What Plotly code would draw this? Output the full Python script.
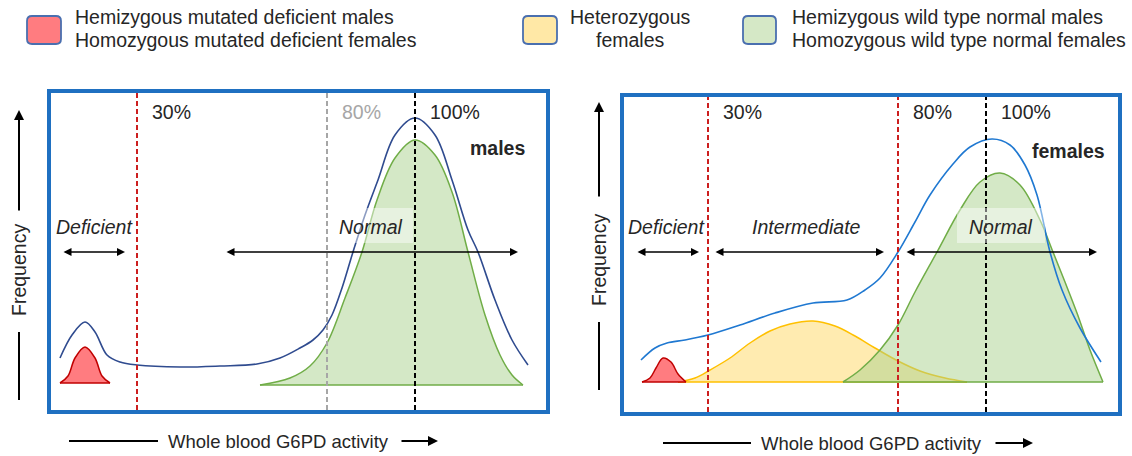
import plotly.graph_objects as go

W, H = 1132, 456
FONT = "Liberation Sans, Arial, sans-serif"
TXT = "#262626"

# ---------------- DATA ----------------
# x: activity units measured from the left edge of each panel box, y: frequency units from box bottom
# Left panel: males
male_thr_x = [86, 276, 364]
male_thr_labels = ["30%", "80%", "100%"]
male_thr_colors = ["#CC1F1F", "#A6A6A6", "#000000"]
male_thr_label_colors = ["#262626", "#A6A6A6", "#262626"]

male_def_x = [9, 17, 24, 34, 44, 51, 59]
male_def_y = [27, 34, 52, 63, 52, 34, 27]

male_norm_x = [209, 239, 259, 276, 294, 311, 326, 344, 364, 384, 401, 417, 434, 449, 461, 472]
male_norm_y = [25, 32, 44, 67, 112, 158, 210, 252, 270, 255, 218, 158, 95, 55, 35, 25]

male_all_x = [9, 21, 34, 44, 56, 69, 86, 129, 169, 206, 229, 249, 262, 272, 281, 291, 302, 314,
              327, 344, 364, 384, 401, 417, 427, 444, 461, 477]
male_all_y = [52, 75, 88, 78, 55, 48, 45, 43, 44, 46, 52, 62, 70, 80, 95, 122, 158, 195,
              230, 275, 292, 275, 230, 180, 158, 110, 70, 45]

# Right panel: females
fem_thr_x = [84, 274, 362]
fem_thr_labels = ["30%", "80%", "100%"]
fem_thr_colors = ["#CC1F1F", "#CC1F1F", "#000000"]

fem_def_x = [18, 26, 32, 39, 47, 54, 62]
fem_def_y = [30, 34, 44, 54, 50, 38, 30]

fem_het_x = [54, 71, 86, 106, 126, 146, 166, 189, 211, 231, 251, 274, 296, 321, 343]
fem_het_y = [30, 34, 42, 54, 69, 81, 88, 91, 86, 76, 64, 51, 41, 34, 30]

fem_norm_x = [219, 236, 256, 274, 291, 313, 336, 356, 376, 396, 416, 429, 441, 453, 466, 479]
fem_norm_y = [30, 42, 62, 87, 120, 160, 202, 230, 239, 227, 192, 160, 130, 99, 62, 30]

fem_all_x = [17, 31, 43, 61, 84, 116, 151, 189, 223, 241, 256, 274, 291, 306, 329, 346,
             368, 386, 401, 413, 426, 438, 456, 477]
fem_all_y = [52, 64, 69, 72, 77, 87, 99, 109, 112, 122, 134, 160, 190, 217, 248, 265,
             273, 267, 247, 217, 160, 122, 84, 50]

# Region labels / arrows: (label, label_x, arrow_start, arrow_end)
male_regions = [("Deficient", 43, 11, 74), ("Normal", 320, 174, 467)]
fem_regions = [("Deficient", 42, 12, 75), ("Intermediate", 182, 90, 260), ("Normal", 377, 281, 473)]

legend_labels = [["Hemizygous mutated deficient males", "Homozygous mutated deficient females"],
                 ["Heterozygous", "females"],
                 ["Hemizygous wild type normal males", "Homozygous wild type normal females"]]

# ---------------- STYLE ----------------
RED_FILL, RED_LINE = "#FF7C80", "#C00000"
YEL_FILL, YEL_LINE = "rgba(255,210,80,0.45)", "#FFC000"
GRN_FILL, GRN_LINE = "rgba(169,209,142,0.5)", "#70AD47"
BOX = "#1F70C1"
FS = 19.5


def px(x):
    return x / W


def py(y):
    return 1 - y / H


fig = go.Figure()


def area(xs, ys, fill, line, xa, ya):
    fig.add_trace(go.Scatter(x=xs, y=ys, mode="lines", fill="toself", fillcolor=fill,
                             line=dict(color=line, width=1.5, shape="spline"),
                             xaxis=xa, yaxis=ya, hoverinfo="skip", showlegend=False))
    fig.add_trace(go.Scatter(x=[xs[0], xs[-1]], y=[ys[0], ys[-1]], mode="lines",
                             line=dict(color=line, width=1.5),
                             xaxis=xa, yaxis=ya, hoverinfo="skip", showlegend=False))


def curve(xs, ys, color, xa, ya):
    fig.add_trace(go.Scatter(x=xs, y=ys, mode="lines",
                             line=dict(color=color, width=1.6, shape="spline"),
                             xaxis=xa, yaxis=ya, hoverinfo="skip", showlegend=False))


def vlines(xs, colors, top, xa, ya):
    for x, c in zip(xs, colors):
        fig.add_trace(go.Scatter(x=[x, x], y=[0, top], mode="lines",
                                 line=dict(color=c, width=2, dash="5px,3px"),
                                 xaxis=xa, yaxis=ya, hoverinfo="skip", showlegend=False))


# Left panel
area(male_norm_x, male_norm_y, GRN_FILL, GRN_LINE, "x", "y")
area(male_def_x, male_def_y, RED_FILL, RED_LINE, "x", "y")
curve(male_all_x, male_all_y, "#2F4B8F", "x", "y")
vlines(male_thr_x, male_thr_colors, 317, "x", "y")

# Right panel
area(fem_het_x, fem_het_y, YEL_FILL, YEL_LINE, "x2", "y2")
area(fem_norm_x, fem_norm_y, GRN_FILL, GRN_LINE, "x2", "y2")
area(fem_def_x, fem_def_y, RED_FILL, RED_LINE, "x2", "y2")
curve(fem_all_x, fem_all_y, "#1F78D1", "x2", "y2")
vlines(fem_thr_x, fem_thr_colors, 315, "x2", "y2")

ann = []
shapes = []


def text(x, y, t, xref="paper", yref="paper", xanchor="center", size=FS, color=TXT, angle=0):
    ann.append(dict(x=x, y=y, xref=xref, yref=yref, text=t, showarrow=False, xanchor=xanchor,
                    yanchor="middle", textangle=angle, font=dict(size=size, color=color)))


# threshold labels
for x, t, c in zip(male_thr_x, male_thr_labels, male_thr_label_colors):
    text(x + 13, 298, t, "x", "y", "left", color=c)
for x, t in zip(fem_thr_x, fem_thr_labels):
    text(x + 13, 300, t, "x2", "y2", "left")

text(476, 262, "<b>males</b>", "x", "y", "right")
text(483, 261, "<b>females</b>", "x2", "y2", "right")

# "Normal" translucent boxes
shapes.append(dict(type="rect", xref="x", yref="y", x0=279, x1=362, y0=167, y1=202,
                   fillcolor="rgba(255,255,255,0.45)", line=dict(width=0), layer="above"))
shapes.append(dict(type="rect", xref="x2", yref="y2", x0=333, x1=421, y0=169, y1=204,
                   fillcolor="rgba(255,255,255,0.45)", line=dict(width=0), layer="above"))

for regions, xr, yr, ly, ay in [(male_regions, "x", "y", 183, 158), (fem_regions, "x2", "y2", 185, 160)]:
    for label, lx, a0, a1 in regions:
        text(lx, ly, "<i>" + label + "</i>", xr, yr, "center")
        ann.append(dict(x=a1, y=ay, ax=a0, ay=ay, xref=xr, yref=yr, axref=xr, ayref=yr, text="",
                        showarrow=True, arrowhead=2, startarrowhead=2, arrowside="end+start",
                        arrowsize=1, startarrowsize=1, arrowwidth=1.6, arrowcolor="#000000"))

# axis titles with arrows
for cx, cy, l0, l1, a0, a1 in [(278, 441, 69, 158, 400, 438), (871, 443, 663, 751, 994, 1033)]:
    text(px(cx), py(cy), "Whole blood G6PD activity", size=18.5)
    shapes.append(dict(type="line", xref="paper", yref="paper", x0=px(l0), x1=px(l1), y0=py(cy), y1=py(cy),
                       line=dict(color="#000000", width=2)))
    ann.append(dict(x=px(a1), y=py(cy), ax=-(a1 - a0), ay=0, xref="paper", yref="paper", text="",
                    showarrow=True, arrowhead=2, arrowsize=1, arrowwidth=2, arrowcolor="#000000"))

for cx, cy, tip, uend, l0, l1 in [(19, 270, 110, 212, 332, 400), (599, 260, 102, 198, 322, 390)]:
    text(px(cx), py(cy), "Frequency", angle=-90)
    ann.append(dict(x=px(cx), y=py(tip), ax=0, ay=uend - tip, xref="paper", yref="paper", text="",
                    showarrow=True, arrowhead=2, arrowsize=1, arrowwidth=2, arrowcolor="#000000"))
    shapes.append(dict(type="line", xref="paper", yref="paper", x0=px(cx), x1=px(cx), y0=py(l0), y1=py(l1),
                       line=dict(color="#000000", width=2)))


# legend
def rrect(x0, y0, x1, y1, r):
    pts = [("M", x0 + r, y0), ("L", x1 - r, y0), ("Q", x1, y0, x1, y0 + r), ("L", x1, y1 - r),
           ("Q", x1, y1, x1 - r, y1), ("L", x0 + r, y1), ("Q", x0, y1, x0, y1 - r), ("L", x0, y0 + r),
           ("Q", x0, y0, x0 + r, y0)]
    out = []
    for p in pts:
        coords = p[1:]
        s = []
        for i in range(0, len(coords), 2):
            s.append(f"{px(coords[i]):.5f},{py(coords[i + 1]):.5f}")
        out.append(p[0] + " " + " ".join(s))
    return " ".join(out) + " Z"


legend_boxes = [(27, 61, "#FF7C80"), (523, 557, "#FFE8A6"), (743, 776, "#D5E8C6")]
for (x0, x1, c) in legend_boxes:
    shapes.append(dict(type="path", xref="paper", yref="paper", path=rrect(x0, 16, x1, 44, 5),
                       fillcolor=c, line=dict(color="#4A6FAF", width=1.8)))

text(px(73), py(17), legend_labels[0][0], xanchor="left")
text(px(73), py(40), legend_labels[0][1], xanchor="left")
text(px(630.5), py(17), legend_labels[1][0])
text(px(630.5), py(40), legend_labels[1][1])
text(px(790), py(17), legend_labels[2][0], xanchor="left")
text(px(790), py(40), legend_labels[2][1], xanchor="left")

axis_common = dict(showgrid=False, zeroline=False, showticklabels=False, ticks="",
                   showline=True, mirror=True, linecolor=BOX, linewidth=3.5, fixedrange=True)

fig.update_layout(
    width=W, height=H, margin=dict(l=0, r=0, t=0, b=0),
    paper_bgcolor="white", plot_bgcolor="white",
    font=dict(family=FONT, color=TXT),
    showlegend=False, hovermode=False,
    xaxis=dict(domain=[px(51), px(546)], range=[0, 495], anchor="y", **axis_common),
    yaxis=dict(domain=[py(410), py(93)], range=[0, 317], anchor="x", **axis_common),
    xaxis2=dict(domain=[px(624), px(1118)], range=[0, 494], anchor="y2", **axis_common),
    yaxis2=dict(domain=[py(412), py(97)], range=[0, 315], anchor="x2", **axis_common),
    annotations=ann, shapes=shapes,
)

fig.write_html("out.html", config={"displayModeBar": False},
               post_script="document.body.style.margin='0';document.body.style.overflow='hidden';")
